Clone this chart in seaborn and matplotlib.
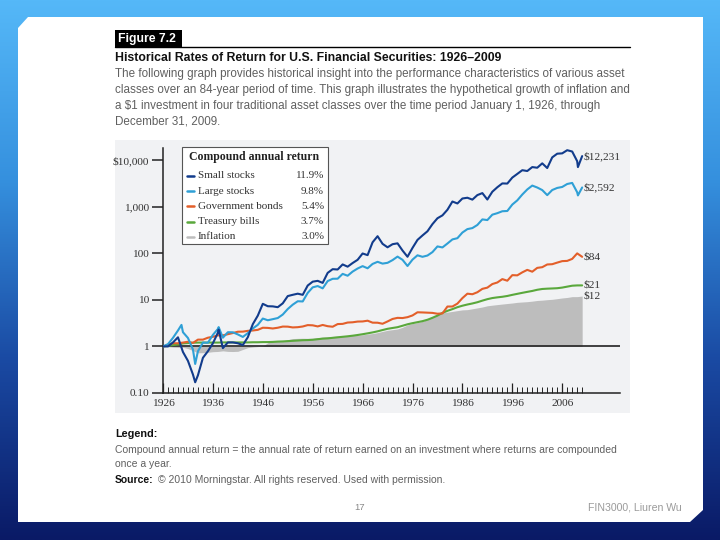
import numpy as np
import pandas as pd
import seaborn as sns
import matplotlib.pyplot as plt
from matplotlib.colors import LinearSegmentedColormap
from matplotlib.patches import Polygon, Rectangle
from matplotlib.lines import Line2D
from matplotlib.ticker import FixedLocator, NullFormatter

# year-start positions, first value is the $1 invested on Jan 1 1926
years = list(range(1926, 2011))

small_stocks = [1.00, 1.00, 1.22, 1.57, 0.76, 0.49, 0.25, 0.24, 0.57, 0.79, 1.17,
                1.97, 0.92, 1.22, 1.22, 1.17, 1.07, 1.58, 3.01, 4.59, 8.22,
                7.30, 7.25, 6.96, 8.43, 12.06, 12.84, 13.58, 12.83, 20.32, 24.59,
                25.62, 23.15, 37.98, 45.60, 44.90, 57.67, 51.61, 61.81, 72.47, 99.08,
                91.35, 172.3, 232.9, 159.7, 134.5, 156.8, 163.7, 114.8, 84.3, 130.4,
                194.1, 241.7, 297.3, 423.4, 565.6, 652.6, 860.9, 1293.9, 1175.4, 1502.2,
                1560.5, 1420.9, 1777.7, 1962.8, 1428.1, 2100.6, 2621.9, 3167.5, 3143.9, 4225.6,
                5067.4, 6088.9, 5850.6, 7105.1, 6877.7, 8543.3, 6777.2, 11479.1, 13768.8, 14003.3,
                16366.0, 15336.1, 9514.6, 12231.4]
large_stocks = [1.00, 1.12, 1.53, 2.20, 2.02, 1.52, 0.86, 0.79, 1.21, 1.20, 1.77,
                2.37, 1.54, 2.02, 2.01, 1.81, 1.60, 1.93, 2.43, 2.91, 3.97,
                3.65, 3.85, 4.07, 4.84, 6.36, 7.89, 9.34, 9.25, 14.12, 18.58,
                19.80, 17.66, 25.32, 28.35, 28.48, 36.14, 32.98, 40.49, 47.14, 53.01,
                47.67, 59.10, 65.64, 60.06, 62.47, 71.41, 84.96, 72.50, 53.31, 73.14,
                90.58, 84.07, 89.59, 106.1, 140.5, 133.6, 162.2, 198.7, 211.2, 279.1,
                330.7, 348.0, 406.0, 534.5, 517.5, 675.6, 727.4, 800.1, 810.5, 1113.9,
                1370.0, 1828.3, 2350.7, 2845.6, 2586.5, 2279.1, 1775.3, 2284.8, 2533.2, 2657.6,
                3077.3, 3246.4, 2045.4, 2591.5]
gov_bonds = [1.00, 1.08, 1.17, 1.17, 1.21, 1.26, 1.19, 1.40, 1.40, 1.54, 1.61,
             1.73, 1.73, 1.83, 1.94, 2.07, 2.08, 2.16, 2.20, 2.27, 2.52,
             2.50, 2.43, 2.52, 2.67, 2.66, 2.56, 2.59, 2.68, 2.87, 2.84,
             2.69, 2.89, 2.72, 2.65, 3.02, 3.05, 3.26, 3.30, 3.42, 3.44,
             3.57, 3.24, 3.23, 3.07, 3.44, 3.89, 4.11, 4.07, 4.25, 4.63,
             5.41, 5.37, 5.31, 5.25, 5.04, 5.11, 7.19, 7.20, 8.31, 10.90,
             13.58, 13.21, 14.59, 17.24, 18.31, 21.87, 23.62, 27.93, 25.79, 33.95,
             33.61, 38.97, 44.07, 40.29, 48.64, 50.34, 57.54, 58.34, 63.12, 67.89,
             68.70, 75.81, 99.60, 84.06]
t_bills = [1.00, 1.03, 1.07, 1.10, 1.16, 1.18, 1.20, 1.21, 1.21, 1.21, 1.21,
           1.21, 1.22, 1.22, 1.22, 1.22, 1.22, 1.22, 1.23, 1.23, 1.24,
           1.24, 1.25, 1.27, 1.28, 1.30, 1.32, 1.34, 1.36, 1.37, 1.39,
           1.43, 1.47, 1.49, 1.53, 1.57, 1.61, 1.65, 1.70, 1.76, 1.83,
           1.91, 2.00, 2.11, 2.25, 2.39, 2.49, 2.59, 2.78, 2.99, 3.16,
           3.32, 3.49, 3.74, 4.12, 4.59, 5.26, 5.81, 6.33, 6.96, 7.49,
           7.95, 8.37, 8.90, 9.63, 10.35, 10.94, 11.32, 11.65, 12.12, 12.81,
           13.47, 14.16, 14.85, 15.54, 16.47, 17.13, 17.40, 17.58, 17.80, 18.35,
           19.23, 20.14, 20.43, 20.45]
inflation = [1.00, 0.985, 0.965, 0.955, 0.957, 0.899, 0.814, 0.730, 0.734, 0.749, 0.771,
             0.780, 0.804, 0.782, 0.778, 0.786, 0.862, 0.942, 0.971, 0.992, 1.015,
             1.199, 1.307, 1.343, 1.318, 1.395, 1.477, 1.490, 1.499, 1.492, 1.498,
             1.541, 1.587, 1.615, 1.639, 1.663, 1.674, 1.695, 1.723, 1.743, 1.777,
             1.836, 1.892, 1.981, 2.102, 2.218, 2.292, 2.371, 2.579, 2.894, 3.097,
             3.246, 3.466, 3.778, 4.281, 4.812, 5.242, 5.445, 5.652, 5.875, 6.097,
             6.166, 6.436, 6.721, 7.030, 7.463, 7.693, 7.916, 8.133, 8.351, 8.563,
             8.847, 9.002, 9.145, 9.389, 9.707, 9.857, 10.091, 10.281, 10.616, 10.986,
             11.264, 11.726, 11.737, 12.061]

# a few intra-year peaks and troughs
small_extra_x = [1932.45, 1937.15, 2009.15]
small_extra_y = [0.17, 2.3, 7100]
large_extra_x = [1929.7, 1932.45, 1937.15, 2009.15]
large_extra_y = [2.9, 0.42, 2.6, 1750]

series_names = ['Small stocks', 'Large stocks', 'Government bonds', 'Treasury bills', 'Inflation']
returns = ['11.9%', '9.8%', '5.4%', '3.7%', '3.0%']
end_labels = ['$12,231', '$2,592', '$84', '$21', '$12']
colors = {'Small stocks': '#123c8c', 'Large stocks': '#2fa0d6',
          'Government bonds': '#e35f2a', 'Treasury bills': '#5aa83c',
          'Inflation': '#bdbdbd'}

y_ticks = [0.1, 1, 10, 100, 1000, 10000]
y_ticklabels = ['0.10', '1', '10', '100', '1,000', '$10,000']
x_ticks = list(range(1926, 2007, 10))

# long table for seaborn
frames = []
frames.append(pd.DataFrame({'year': years + small_extra_x, 'value': small_stocks + small_extra_y,
                            'series': 'Small stocks'}))
frames.append(pd.DataFrame({'year': years + large_extra_x, 'value': large_stocks + large_extra_y,
                            'series': 'Large stocks'}))
frames.append(pd.DataFrame({'year': years, 'value': gov_bonds, 'series': 'Government bonds'}))
frames.append(pd.DataFrame({'year': years, 'value': t_bills, 'series': 'Treasury bills'}))
df = pd.concat(frames, ignore_index=True)

sns.set_theme(style='white')
plt.rcParams['font.family'] = ['Liberation Sans', 'DejaVu Sans']
serif = ['Liberation Serif', 'DejaVu Serif']

W, H = 720, 540
fig = plt.figure(figsize=(7.2, 5.4), dpi=100)


def px(x, y):
    return (x / W, 1 - y / H)


# slide background
bg = fig.add_axes([0, 0, 1, 1])
bg.set_axis_off()
cmap = LinearSegmentedColormap.from_list('slide', ['#55b8f8', '#3590de', '#1a4aa3', '#0a1a66'])
grad = np.linspace(0, 1, 256).reshape(-1, 1) * np.ones((1, 2))
bg.imshow(grad, aspect='auto', cmap=cmap, extent=[0, 1, 0, 1])
bg.set_xlim(0, 1)
bg.set_ylim(0, 1)
card = [px(18, 28), px(28, 17), px(703, 17), px(703, 510), px(690, 522), px(18, 522)]
bg.add_patch(Polygon(card, closed=True, facecolor='white', edgecolor='none'))
# gray chart panel
x0, y0 = px(115, 413)
x1, y1 = px(630, 140)
bg.add_patch(Rectangle((x0, y0), x1 - x0, y1 - y0, facecolor='#f1f2f4', edgecolor='none'))
# Figure 7.2 tab and rule
x0, y0 = px(115, 47)
x1, y1 = px(182, 30)
bg.add_patch(Rectangle((x0, y0), x1 - x0, y1 - y0, facecolor='black', edgecolor='none'))
bg.plot([115 / W, 630 / W], [1 - 47 / H] * 2, color='black', lw=1)

fig.text(*px(118, 39), 'Figure 7.2', color='white', fontsize=8.8, fontweight='bold', va='center')
fig.text(*px(115, 58), 'Historical Rates of Return for U.S. Financial Securities: 1926\u20132009',
         fontsize=8.8, fontweight='bold', va='center', color='#111111')
body = ['The following graph provides historical insight into the performance characteristics of various asset',
        'classes over an 84-year period of time. This graph illustrates the hypothetical growth of inflation and',
        'a $1 investment in four traditional asset classes over the time period January 1, 1926, through',
        'December 31, 2009.']
for i, line in enumerate(body):
    fig.text(*px(115, 74 + 16 * i), line, fontsize=8.4, va='center', color='#606060')

fig.text(*px(115, 434), 'Legend:', fontsize=7.8, fontweight='bold', va='center', color='#111111')
fig.text(*px(115, 450), 'Compound annual return = the annual rate of return earned on an investment where returns are compounded',
         fontsize=7.5, va='center', color='#606060')
fig.text(*px(115, 464), 'once a year.', fontsize=7.5, va='center', color='#606060')
src = fig.text(*px(115, 480), 'Source:', fontsize=7.5, fontweight='bold', va='center', color='#111111')
bb = src.get_window_extent(renderer=fig.canvas.get_renderer())
fig.text(bb.x1 / W + 4 / W, 1 - 480 / H, '\u00a9 2010 Morningstar. All rights reserved. Used with permission.',
         fontsize=7.5, va='center', color='#606060')
fig.text(*px(360, 508), '17', fontsize=6.8, va='center', ha='center', color='#888888')
fig.text(*px(682, 507), 'FIN3000, Liuren Wu', fontsize=7.6, va='center', ha='right', color='#9a9a9a')

# main chart
ax = fig.add_axes([163 / W, 1 - 393 / H, (620 - 163) / W, (393 - 148) / H])
ax.set_facecolor('none')
ax.set_yscale('log')

ax.fill_between(years, 1, inflation, color=colors['Inflation'], lw=0, zorder=1)
ax.axhline(1, color='#222222', lw=1.2, zorder=2)
sns.lineplot(data=df, x='year', y='value', hue='series',
             hue_order=['Treasury bills', 'Government bonds', 'Large stocks', 'Small stocks'],
             palette=colors, estimator=None, linewidth=1.5, legend=False, ax=ax, zorder=3)

ax.set_xlim(1926, 1926 + (620 - 163) / 4.99)
ax.set_ylim(0.1, 10 ** ((347 - 148) / 46.7))
ax.set_xlabel('')
ax.set_ylabel('')

ax.yaxis.set_major_locator(FixedLocator(y_ticks))
ax.yaxis.set_minor_locator(FixedLocator([]))
ax.set_yticklabels(y_ticklabels, fontfamily=serif, fontsize=8.2, color='#333333')
ax.tick_params(axis='y', which='major', direction='out', length=8, width=1.1, color='#222222', pad=2, left=True)

ax.xaxis.set_major_locator(FixedLocator(x_ticks))
ax.xaxis.set_minor_locator(FixedLocator(list(range(1926, 2011))))
ax.xaxis.set_minor_formatter(NullFormatter())
ax.set_xticklabels([str(y) for y in x_ticks], fontfamily=serif, fontsize=8.2, color='#333333')
ax.tick_params(axis='x', which='major', direction='in', length=7, width=0.9, color='#222222', pad=4, bottom=True)
ax.tick_params(axis='x', which='minor', direction='in', length=4, width=0.7, color='#222222', bottom=True)

for side in ['top', 'right']:
    ax.spines[side].set_visible(False)
for side in ['left', 'bottom']:
    ax.spines[side].set_color('#222222')
    ax.spines[side].set_linewidth(1.1)

end_values = [small_stocks[-1], large_stocks[-1], gov_bonds[-1], t_bills[-1], inflation[-1]]
for lab, v in zip(end_labels, end_values):
    ax.text(2010.2, v, lab, fontfamily=serif, fontsize=8.2, va='center', ha='left', color='#333333')

# legend box
x0, y0 = px(182, 244)
x1, y1 = px(328, 147)
bg.add_patch(Rectangle((x0, y0), x1 - x0, y1 - y0, facecolor='white', edgecolor='#555555', lw=0.8, zorder=5))
fig.text(*px(189, 157), 'Compound annual return', fontfamily=serif, fontsize=8.5,
         fontweight='bold', va='center', color='#222222', zorder=6)
for i, (name, r) in enumerate(zip(series_names, returns)):
    yy = 176 + 15.2 * i
    fig.add_artist(Line2D([187 / W, 194 / W], [1 - yy / H] * 2, color=colors[name], lw=1.8, zorder=6))
    fig.text(*px(198, yy), name, fontfamily=serif, fontsize=8, va='center', color='#333333', zorder=6)
    fig.text(*px(324, yy), r, fontfamily=serif, fontsize=8, va='center', ha='right', color='#333333', zorder=6)

fig.savefig('out.png', dpi=100)
